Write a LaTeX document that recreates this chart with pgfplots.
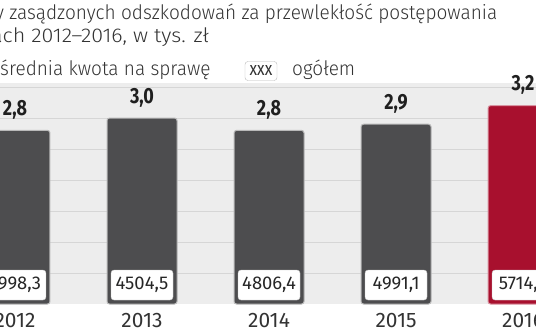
\documentclass[border=0pt]{standalone}
\usepackage{fontspec}
\setmainfont{Fira Sans}
\newfontfamily\lightfont{Fira Sans Light}[FakeStretch=0.955]
\newfontfamily\lightwide{Fira Sans Light}[FakeStretch=1.08]
\newfontfamily\condfont{Fira Sans}[FakeStretch=0.82]
\usepackage{pgfplots}
\usepackage{pgfplotstable}
\pgfplotsset{compat=1.18}
\definecolor{bargray}{HTML}{4D4D4F}
\definecolor{barred}{HTML}{A8102E}
\definecolor{bggray}{HTML}{EDEDED}
\definecolor{gridgray}{HTML}{D6D6D6}
\definecolor{txt}{HTML}{333333}

\pgfplotstableread{
x y
0 2.8
1 3.0
2 2.8
3 2.9
}\srednia
\pgfplotstableread{
x y
4 3.2
}\sredniared
\pgfplotstableread{
x y label
0 0.306 3998,3
1 0.306 4504,5
2 0.306 4806,4
3 0.306 4991,1
4 0.306 5714,3
}\ogolem

\begin{document}
\begin{tikzpicture}
\path[use as bounding box] (0,0) rectangle (536bp,332bp);
\clip (0,0) rectangle (536bp,332bp);
\begin{axis}[
  at={(0bp,28bp)}, anchor=south west,
  scale only axis, width=536bp, height=221bp,
  xmin=-0.118, xmax=4.102, ymin=0, ymax=3.565,
  /pgf/number format/assume math mode=true,
  axis line style={draw=none}, tick style={draw=none},
  ytick={0.5,1,...,3.5}, yticklabels={},
  ymajorgrids, grid style={gridgray, line width=0.8bp},
  xtick={0,1,2,3,4}, xticklabels={2012,2013,2014,2015,2016},
  xticklabel style={font=\fontsize{21}{21}\selectfont, text=txt, anchor=base, yshift=-23bp},
  axis background/.style={fill=bggray},
  clip=false,
]
\addplot[ybar, bar width=70bp, bar shift=0pt, fill=bargray, draw=gray!55, line width=1bp, rounded corners=2.5bp,
  nodes near coords={\pgfmathprintnumber[fixed,fixed zerofill,precision=1,use comma,assume math mode=true]{\pgfplotspointmeta}},
  nodes near coords style={font=\condfont\bfseries\fontsize{22}{22}\selectfont, text=black!88, anchor=base, yshift=15bp}]
  table[x=x,y=y]{\srednia};
\addplot[ybar, bar width=70bp, bar shift=0pt, fill=barred, draw=barred!45!white, line width=1bp, rounded corners=2.5bp,
  nodes near coords={\pgfmathprintnumber[fixed,fixed zerofill,precision=1,use comma,assume math mode=true]{\pgfplotspointmeta}},
  nodes near coords style={font=\condfont\bfseries\fontsize{22}{22}\selectfont, text=black!88, anchor=base, yshift=15bp}]
  table[x=x,y=y]{\sredniared};
\addplot[draw=none, mark=none, nodes near coords, point meta=explicit symbolic,
  nodes near coords style={anchor=center, fill=white, draw=gray!45, rounded corners=3bp,
    minimum width=62bp, minimum height=30bp, inner sep=0pt,
    font=\fontsize{18.5}{18.5}\selectfont, text=black!85}]
  table[x=x,y=y,meta=label]{\ogolem};
\end{axis}
\node[anchor=base west, inner sep=0pt, font=\lightfont\fontsize{20}{20}\selectfont, text=txt] at (-5bp,312bp) {y zasądzonych odszkodowań za przewlekłość postępowania};
\node[anchor=base west, inner sep=0pt, font=\lightwide\fontsize{20}{20}\selectfont, text=txt] at (-9bp,289bp) {ach 2012–2016, w tys. zł};
\node[anchor=base west, inner sep=0pt, font=\lightfont\fontsize{20}{20}\selectfont, text=txt] at (0bp,256bp) {średnia kwota na sprawę};
\node[draw=gray!55, fill=white, rounded corners=3bp, minimum width=32bp, minimum height=19bp, inner sep=0pt,
  font=\condfont\fontsize{19}{19}\selectfont, text=txt] at (261bp,261bp) {xxx};
\node[anchor=base west, inner sep=0pt, font=\lightfont\fontsize{20}{20}\selectfont, text=txt] at (292bp,256bp) {ogółem};
\end{tikzpicture}
\end{document}
